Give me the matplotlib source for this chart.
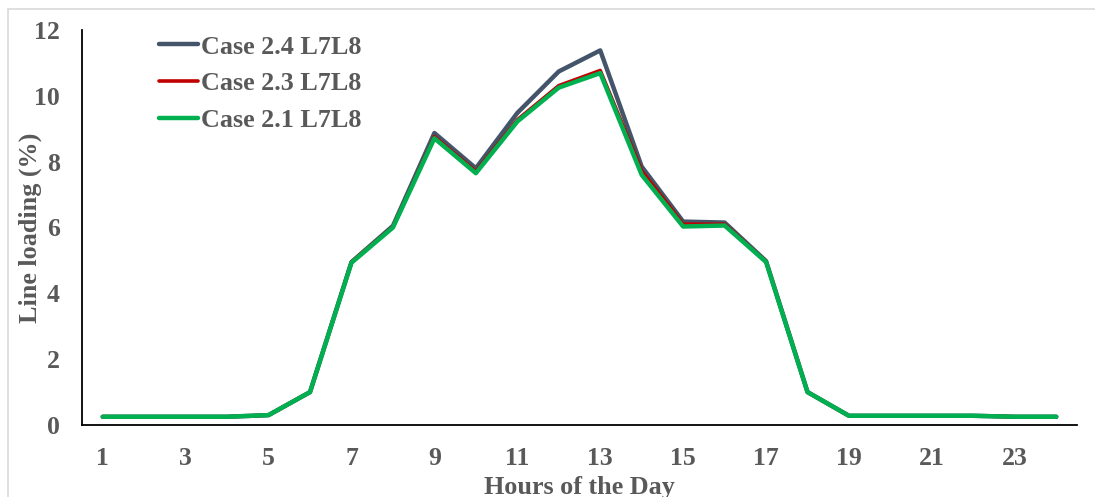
import matplotlib.pyplot as plt
from matplotlib.patches import Rectangle

hours = list(range(1, 25))
case24 = [0.25, 0.25, 0.25, 0.25, 0.3, 1.0, 4.95, 6.05, 8.87, 7.8, 9.48, 10.74,
          11.38, 7.85, 6.18, 6.15, 4.98, 1.0, 0.28, 0.28, 0.28, 0.28, 0.25, 0.25]
case23 = [0.25, 0.25, 0.25, 0.25, 0.3, 1.0, 4.95, 6.02, 8.76, 7.7, 9.27, 10.31,
          10.77, 7.72, 6.1, 6.1, 4.96, 1.0, 0.28, 0.28, 0.28, 0.28, 0.25, 0.25]
case21 = [0.25, 0.25, 0.25, 0.25, 0.3, 1.0, 4.93, 6.0, 8.71, 7.65, 9.22, 10.25,
          10.69, 7.6, 6.03, 6.06, 4.95, 1.0, 0.28, 0.28, 0.28, 0.28, 0.25, 0.25]
labels = ["Case 2.4 L7L8", "Case 2.3 L7L8", "Case 2.1 L7L8"]

plt.rcParams['font.family'] = ['Liberation Serif', 'DejaVu Serif']
plt.rcParams['font.weight'] = 'bold'
plt.rcParams['axes.labelweight'] = 'bold'
txt = '#595959'

W, H = 1095, 497
fig = plt.figure(figsize=(W / 100, H / 100), dpi=100)
# light grey chart-area border
fig.patches.append(Rectangle((8 / W, -0.1), 1.2, 1.1 - 9 / H,
                             transform=fig.transFigure, fill=False,
                             edgecolor='#d9d9d9', linewidth=1.2))
ax = fig.add_axes([82 / W, 1 - 425 / H, (1077 - 82) / W, (425 - 30) / H])

ax.plot(hours, case24, color='#44546A', lw=3.2, label=labels[0], solid_capstyle='round')
ax.plot(hours, case23, color='#C00000', lw=2.6, label=labels[1], solid_capstyle='round')
ax.plot(hours, case21, color='#00B050', lw=3.2, label=labels[2], solid_capstyle='round')

ax.set_xlim(0.5, 24.5)
ax.set_ylim(0, 12)
ax.set_xticks(range(1, 25, 2))
ax.set_yticks(range(0, 13, 2))
ax.tick_params(length=0, labelsize=18.5, labelcolor=txt)
ax.tick_params(axis='x', pad=16)
ax.tick_params(axis='y', pad=16)
for s in ['top', 'right']:
    ax.spines[s].set_visible(False)
for s in ['left', 'bottom']:
    ax.spines[s].set_color('black')
    ax.spines[s].set_linewidth(1.3)

ax.set_xlabel("Hours of the Day", fontsize=18.8, color=txt, labelpad=4)
ax.set_ylabel("Line loading (%)", fontsize=18.8, color=txt, labelpad=-6)

leg = ax.legend(loc='upper left', bbox_to_anchor=(0.054, 1.046), frameon=False,
                fontsize=18.8, handlelength=1.5, handletextpad=0.1, labelspacing=0.52)
for t in leg.get_texts():
    t.set_color(txt)

fig.savefig('out.png', dpi=100)
